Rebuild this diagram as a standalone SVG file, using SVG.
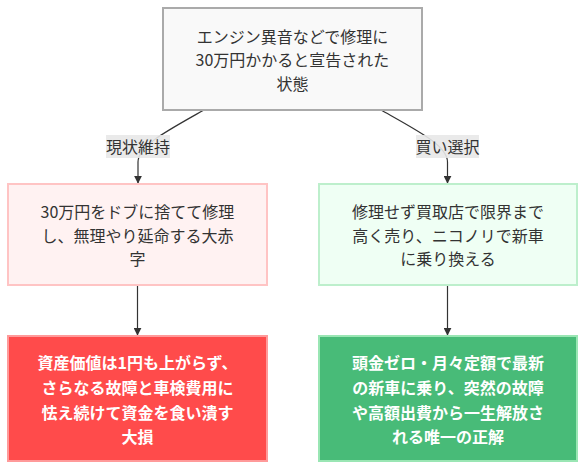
<svg xmlns="http://www.w3.org/2000/svg" width="586" height="470" viewBox="0 0 586 470">
<style>
text{font-family:"Noto Sans CJK JP","Noto Sans",sans-serif;font-size:16px;text-anchor:middle;dominant-baseline:central;fill:#333}
.w{fill:#fff;font-weight:bold}
.e{fill:none;stroke:#333;stroke-width:1.2}
.lbl{fill:#e8e8e8;opacity:0.9}
</style>
<defs>
<marker id="arr" viewBox="0 0 10 10" refX="9" refY="5" markerWidth="8" markerHeight="8" orient="auto" markerUnits="userSpaceOnUse">
<path d="M0,0 L10,5 L0,10 z" fill="#333"/>
</marker>
</defs>
<rect width="586" height="470" fill="#fff"/>
<g id="connectors">
<path class="e" d="M204,110 C165,132 138,146 138,162 L138,183" marker-end="url(#arr)"/>
<path class="e" d="M381,110 C420,132 447.5,146 447.5,162 L447.5,183" marker-end="url(#arr)"/>
<path class="e" d="M137.5,285 L137.5,335" marker-end="url(#arr)"/>
<path class="e" d="M447.5,285 L447.5,335" marker-end="url(#arr)"/>
<g id="label1"><rect class="lbl" x="106" y="135" width="64" height="23"/><text x="138" y="146">現状維持</text></g>
<g id="label2"><rect class="lbl" x="416" y="135" width="63" height="23"/><text x="447.5" y="146">買い選択</text></g>
</g>
<g id="start">
<rect x="163" y="8" width="259" height="102" fill="#f9f9f9" stroke="#aaa" stroke-width="2"/>
<text x="292.5" y="35.5">エンジン異音などで修理に</text>
<text x="292.5" y="59">30万円かかると宣告された</text>
<text x="292.5" y="82.5">状態</text>
</g>
<g id="keep">
<rect x="8" y="184" width="259" height="101" fill="#fff2f2" stroke="#ffc4c4" stroke-width="2"/>
<text x="137.5" y="211">30万円をドブに捨てて修理</text>
<text x="137.5" y="234.5">し、無理やり延命する大赤</text>
<text x="137.5" y="258">字</text>
</g>
<g id="buy">
<rect x="319" y="184" width="258" height="101" fill="#effff4" stroke="#bdefcc" stroke-width="2"/>
<text x="448" y="211">修理せず買取店で限界まで</text>
<text x="448" y="234.5">高く売り、ニコノリで新車</text>
<text x="448" y="258">に乗り換える</text>
</g>
<g id="loss">
<rect x="8" y="336" width="259" height="125" fill="#ff4b4b" stroke="#ff9a9a" stroke-width="2"/>
<text class="w" x="137.5" y="361.5">資産価値は1円も上がらず、</text>
<text class="w" x="137.5" y="386.5">さらなる故障と車検費用に</text>
<text class="w" x="137.5" y="411.5">怯え続けて資金を食い潰す</text>
<text class="w" x="137.5" y="436">大損</text>
</g>
<g id="win">
<rect x="319" y="336" width="258" height="125" fill="#48bb78" stroke="#9ae6b4" stroke-width="2"/>
<text class="w" x="448" y="361.5">頭金ゼロ・月々定額で最新</text>
<text class="w" x="448" y="386.5">の新車に乗り、突然の故障</text>
<text class="w" x="448" y="411.5">や高額出費から一生解放さ</text>
<text class="w" x="448" y="436">れる唯一の正解</text>
</g>
</svg>
